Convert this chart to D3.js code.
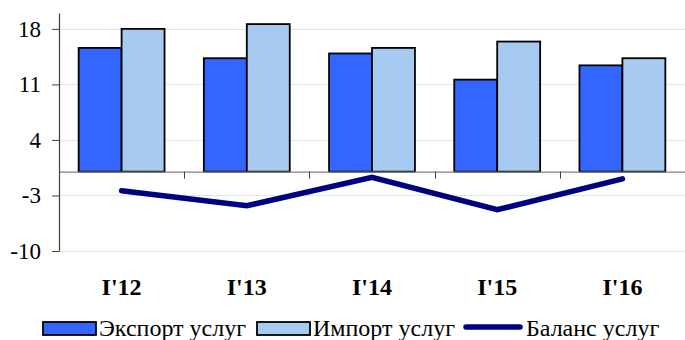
<!DOCTYPE html>
<html>
<head>
<meta charset="utf-8">
<script src="https://cdn.jsdelivr.net/npm/d3@7"></script>
<style>
html,body{margin:0;padding:0;background:#fff;}
svg{display:block;}
svg text{font-family:"Liberation Serif","Times New Roman",Times,serif;}
</style>
</head>
<body>
<svg id="chart" width="685" height="340"></svg>
<script>
const categories = ["I'12", "I'13", "I'14", "I'15", "I'16"];
const exportValues = [15.6, 14.3, 14.9, 11.6, 13.4];
const importValues = [18.0, 18.6, 15.6, 16.4, 14.3];
const balanceValues = [-2.4, -4.3, -0.7, -4.8, -0.9];
const yTicks = [-10, -3, 4, 11, 18];
const seriesNames = ["Экспорт услуг", "Импорт услуг", "Баланс услуг"];

(function () {
const svg = d3.select("#chart");
const mLeft = 59, mRight = 685, mTop = 13, mBottom = 251;
const font = "Liberation Serif";

const x = d3.scaleBand().domain(categories).range([mLeft, mRight]).paddingInner(0.314).paddingOuter(0.157);
const xOuter = d3.scaleBand().domain(categories).range([mLeft, mRight]);
const y = d3.scaleLinear().domain([-10, 20]).range([mBottom, mTop]);

// gridlines
svg.append("g").selectAll("line").data(yTicks).join("line")
  .attr("x1", mLeft).attr("x2", mRight)
  .attr("y1", d => Math.round(y(d)) + 0.5).attr("y2", d => Math.round(y(d)) + 0.5)
  .attr("stroke", "#e4e4e4").attr("stroke-width", 1);

// bars
const bw = x.bandwidth() / 2;
const g = svg.append("g");
g.selectAll("rect.exp").data(categories).join("rect")
  .attr("class", "exp")
  .attr("x", d => x(d)).attr("width", bw)
  .attr("y", (d, i) => y(exportValues[i])).attr("height", (d, i) => y(0) - y(exportValues[i]))
  .attr("fill", "#3366FF").attr("stroke", "#000").attr("stroke-width", 1.8);
g.selectAll("rect.imp").data(categories).join("rect")
  .attr("class", "imp")
  .attr("x", d => x(d) + bw).attr("width", bw)
  .attr("y", (d, i) => y(importValues[i])).attr("height", (d, i) => y(0) - y(importValues[i]))
  .attr("fill", "#A6CAF0").attr("stroke", "#000").attr("stroke-width", 1.8);

// zero axis with category ticks
const xAxis = svg.append("g").attr("transform", `translate(0,${y(0)})`)
  .call(d3.axisBottom(xOuter).tickSize(0).tickFormat(""));
xAxis.select(".domain").attr("stroke", "#808080").attr("stroke-width", 1.2);
svg.append("g").selectAll("line").data(categories.slice(1)).join("line")
  .attr("x1", d => Math.round(xOuter(d)) + 0.5).attr("x2", d => Math.round(xOuter(d)) + 0.5)
  .attr("y1", y(0)).attr("y2", y(0) + 7)
  .attr("stroke", "#404040").attr("stroke-width", 1);

// balance line
const line = d3.line()
  .x((d, i) => x(categories[i]) + x.bandwidth() / 2)
  .y(d => y(d));
svg.append("path").datum(balanceValues)
  .attr("d", line)
  .attr("fill", "none").attr("stroke", "#000080").attr("stroke-width", 5.5)
  .attr("stroke-linecap", "round").attr("stroke-linejoin", "miter");

// y axis
const yAxis = svg.append("g").attr("transform", `translate(${mLeft},0)`)
  .call(d3.axisLeft(y).tickValues(yTicks).tickSize(7).tickPadding(11).tickSizeOuter(0)
    .tickFormat(d => String(d)));
yAxis.attr("font-family", null).attr("font-size", null);
yAxis.select(".domain").attr("stroke", "#404040").attr("stroke-width", 1.2);
yAxis.selectAll(".tick line").attr("stroke", "#404040");
yAxis.selectAll(".tick text").style("font-family", font).style("font-size", "23px").attr("fill", "#000");

// x labels
svg.append("g").selectAll("text").data(categories).join("text")
  .attr("x", d => xOuter(d) + xOuter.bandwidth() / 2)
  .attr("y", 295)
  .attr("text-anchor", "middle")
  .style("font-family", font).style("font-size", "24px").style("font-weight", "bold")
  .text(d => d);

// legend
const lg = svg.append("g");
const starts = [43, 257, 463];
const ly = 322;
seriesNames.forEach((name, i) => {
  const lx = starts[i];
  if (i < 2) {
    lg.append("rect").attr("x", lx).attr("y", ly).attr("width", 53).attr("height", 13)
      .attr("fill", i === 0 ? "#3366FF" : "#A6CAF0").attr("stroke", "#000").attr("stroke-width", 1.8);
  } else {
    lg.append("line").attr("x1", lx + 3).attr("x2", lx + 57).attr("y1", ly + 5).attr("y2", ly + 5)
      .attr("stroke", "#000080").attr("stroke-width", 5.5).attr("stroke-linecap", "round");
  }
  const tx = lx + (i < 2 ? 56 : 63);
  lg.append("text").attr("x", tx).attr("y", 336)
    .style("font-family", font).style("font-size", "24px").attr("fill", "#000").text(name);
});
})();
</script>
</body>
</html>
